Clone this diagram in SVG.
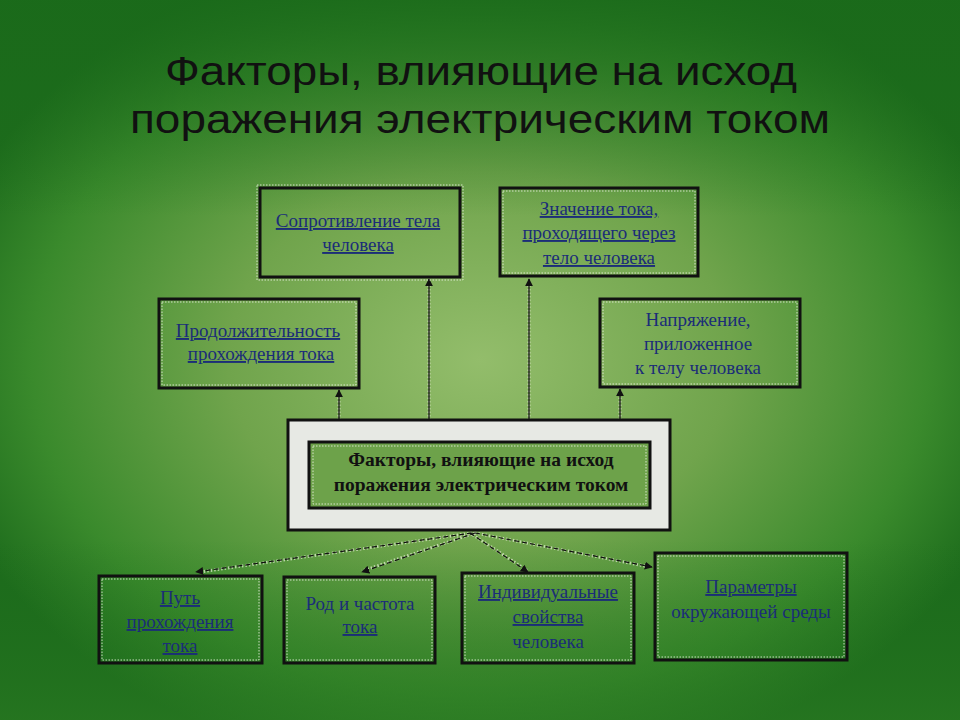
<svg xmlns="http://www.w3.org/2000/svg" width="960" height="720" viewBox="0 0 960 720">
<defs>
<radialGradient id="bg" cx="480" cy="360" r="560" gradientUnits="userSpaceOnUse" gradientTransform="translate(480 360) scale(1 0.75) translate(-480 -360)">
<stop offset="0" stop-color="#93bd6b"/>
<stop offset="0.45" stop-color="#70a44c"/>
<stop offset="0.8" stop-color="#3a8a2c"/>
<stop offset="1" stop-color="#1d6c1c"/>
</radialGradient>
<linearGradient id="topdark" x1="0" y1="0" x2="0" y2="1">
<stop offset="0" stop-color="#1a6a1a" stop-opacity="0.85"/>
<stop offset="0.3" stop-color="#1a6a1a" stop-opacity="0"/>
<stop offset="0.75" stop-color="#1a6a1a" stop-opacity="0"/>
<stop offset="1" stop-color="#2a7a22" stop-opacity="0.6"/>
</linearGradient>
<marker id="ah" viewBox="0 0 10 10" refX="9" refY="5" markerWidth="8" markerHeight="8" markerUnits="userSpaceOnUse" orient="auto">
<path d="M0,0 L10,5 L0,10 z" fill="#111"/>
</marker>
<style>
.box{fill:none;stroke:#111;stroke-width:3}
.dots{fill:none;stroke:#f2f6ea;stroke-width:1;stroke-dasharray:1.5 1.5;opacity:0.8}
.t{font-family:"Liberation Serif","Times New Roman",serif;font-size:19px;fill:#1b2d78;text-anchor:middle}
.u{text-decoration:underline}
.c{font-family:"Liberation Serif","Times New Roman",serif;font-size:19.5px;font-weight:bold;fill:#111;text-anchor:middle}
.title{font-family:"Liberation Sans",Arial,sans-serif;font-size:41px;fill:#111;text-anchor:middle}
.ln{stroke:#111;stroke-width:1.3;fill:none}
.dl{stroke:#111;stroke-width:1.2;fill:none;stroke-dasharray:5 3}
.halo{stroke:#e8f0d8;stroke-width:3;fill:none;stroke-dasharray:1.5 2;opacity:0.7}
</style>
</defs>
<rect x="0" y="0" width="960" height="720" fill="url(#bg)"/>
<rect x="0" y="0" width="960" height="720" fill="url(#topdark)"/>

<g id="title">
<text class="title" x="481" y="85" textLength="632" lengthAdjust="spacingAndGlyphs">Факторы, влияющие на исход</text>
<text class="title" x="480" y="133" textLength="700" lengthAdjust="spacingAndGlyphs">поражения электрическим током</text>
</g>

<g id="connectors">
<line class="halo" x1="339" y1="420" x2="339" y2="392"/>
<line class="halo" x1="429" y1="420" x2="429" y2="281"/>
<line class="halo" x1="529" y1="420" x2="529" y2="281"/>
<line class="halo" x1="620" y1="420" x2="620" y2="391"/>
<line class="ln" x1="339" y1="420" x2="339" y2="390" marker-end="url(#ah)"/>
<line class="ln" x1="429" y1="420" x2="429" y2="279" marker-end="url(#ah)"/>
<line class="ln" x1="529" y1="420" x2="529" y2="279" marker-end="url(#ah)"/>
<line class="ln" x1="620" y1="420" x2="620" y2="389" marker-end="url(#ah)"/>
<path class="halo" d="M472,533 L200,572 M475,533 L362,571 M470,533 L528,571 M475,533 L650,567"/>
<line class="dl" x1="472" y1="533" x2="196" y2="572" marker-end="url(#ah)"/>
<line class="dl" x1="475" y1="533" x2="362" y2="572" marker-end="url(#ah)"/>
<line class="dl" x1="470" y1="533" x2="528" y2="572" marker-end="url(#ah)"/>
<line class="dl" x1="475" y1="533" x2="652" y2="567" marker-end="url(#ah)"/>
</g>

<g id="n-resist">
<rect class="dots" x="257" y="185" width="206" height="95"/>
<rect class="box" x="260" y="188" width="200" height="89"/>
<text class="t u" x="358" y="227">Сопротивление тела</text>
<text class="t u" x="358" y="251">человека</text>
</g>

<g id="n-current">
<rect class="dots" x="503" y="191" width="192" height="82"/>
<rect class="box" x="500" y="188" width="198" height="88"/>
<text class="t u" x="599" y="215">Значение тока,</text>
<text class="t u" x="599" y="239">проходящего через</text>
<text class="t u" x="599" y="264">тело человека</text>
</g>

<g id="n-duration">
<rect class="dots" x="162" y="302" width="194" height="83"/>
<rect class="box" x="159" y="299" width="200" height="89"/>
<text class="t u" x="258" y="337">Продолжительность </text>
<text class="t u" x="261" y="360">прохождения тока</text>
</g>

<g id="n-voltage">
<rect class="dots" x="603" y="302" width="194" height="82"/>
<rect class="box" x="600" y="299" width="200" height="88"/>
<text class="t" x="698" y="326">Напряжение,</text>
<text class="t" x="698" y="350">приложенное</text>
<text class="t" x="698" y="374">к телу человека</text>
</g>

<g id="n-center">
<rect x="288" y="420" width="382" height="110" fill="#e7e9e4" stroke="#111" stroke-width="3"/>
<rect x="309" y="442" width="341" height="66" fill="#6da24a" stroke="#111" stroke-width="3"/>
<rect class="dots" x="313" y="446" width="333" height="58"/>
<text class="c" x="481" y="466">Факторы, влияющие на исход</text>
<text class="c" x="481" y="491">поражения электрическим током</text>
</g>

<g id="n-path">
<rect class="dots" x="102" y="579" width="157" height="81"/>
<rect class="box" x="99" y="576" width="163" height="87"/>
<text class="t u" x="180" y="604">Путь </text>
<text class="t u" x="180" y="628">прохождения</text>
<text class="t u" x="180" y="652">тока</text>
</g>

<g id="n-kind">
<rect class="dots" x="287" y="580" width="145" height="80"/>
<rect class="box" x="284" y="577" width="151" height="86"/>
<text class="t" x="360" y="610">Род и частота</text>
<text class="t u" x="360" y="633">тока</text>
</g>

<g id="n-individual">
<rect class="dots" x="465" y="576" width="166" height="84"/>
<rect class="box" x="462" y="573" width="172" height="90"/>
<text class="t u" x="548" y="598">Индивидуальные</text>
<text class="t u" x="548" y="623">свойства</text>
<text class="t" x="548" y="648">человека</text>
</g>

<g id="n-env">
<rect class="dots" x="658" y="556" width="186" height="101"/>
<rect class="box" x="655" y="553" width="192" height="107"/>
<text class="t u" x="751" y="593">Параметры </text>
<text class="t" x="751" y="618">окружающей среды</text>
</g>
</svg>
